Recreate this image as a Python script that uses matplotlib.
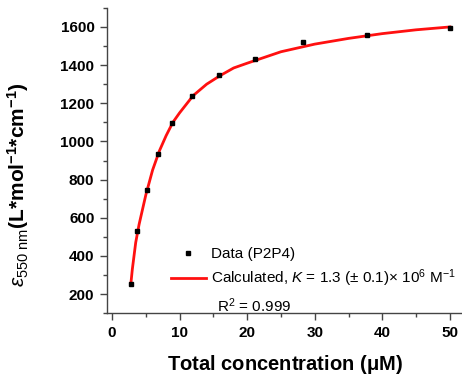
import numpy as np
import matplotlib
matplotlib.use('Agg')
import matplotlib.pyplot as plt
from matplotlib.ticker import MultipleLocator

# data
conc = [2.8, 3.7, 5.1, 6.75, 8.9, 11.9, 15.9, 21.1, 28.2, 37.7, 50.0]
eps = [253, 532, 743, 936, 1096, 1240, 1349, 1433, 1521, 1556, 1595]

# calculated curve
fit_x = [2.8, 3.0, 3.5, 4.0, 5.0, 6.0, 7.0, 8.0, 9.0, 10.0, 12.0, 14.0,
         16.0, 18.0, 20.0, 25.0, 30.0, 35.0, 40.0, 45.0, 50.0]
fit_y = [260, 330, 470, 565, 720, 850, 950, 1030, 1100, 1150, 1240, 1300,
         1345, 1385, 1410, 1470, 1510, 1540, 1565, 1585, 1600]

plt.rcParams['font.family'] = 'Liberation Sans'
plt.rcParams['mathtext.fontset'] = 'custom'
plt.rcParams['mathtext.rm'] = 'Liberation Sans'
plt.rcParams['mathtext.it'] = 'Liberation Sans:italic'
plt.rcParams['mathtext.bf'] = 'Liberation Sans:bold'

fig = plt.figure(figsize=(4.62, 3.75), dpi=100)
ax = fig.add_axes([0.2316, 0.165, 0.7684, 0.814])

ax.plot(conc, eps, 's', color='k', markersize=3.2, label='Data (P2P4)', zorder=3)
ax.plot(fit_x, fit_y, '-', color='#ff1010', linewidth=2,
        label=r'Calculated, $K$ = 1.3 ($\pm$ 0.1)$\times$ 10$^{6}$ M$^{-1}$', zorder=2)

ax.set_xlim(-0.75, 51.8)
ax.set_ylim(100, 1700)
ax.xaxis.set_major_locator(MultipleLocator(10))
ax.xaxis.set_minor_locator(MultipleLocator(5))
ax.yaxis.set_major_locator(MultipleLocator(200))
ax.yaxis.set_minor_locator(MultipleLocator(100))
ax.set_yticks(range(200, 1601, 200))

for s in ['top', 'right']:
    ax.spines[s].set_visible(False)
for s in ['left', 'bottom']:
    ax.spines[s].set_color('#444444')
    ax.spines[s].set_linewidth(1)

ax.tick_params(which='major', direction='out', length=5, width=1, color='#444444',
               labelsize=11, pad=4)
ax.tick_params(which='minor', direction='out', length=3, width=1, color='#444444')
for lab in ax.get_xticklabels() + ax.get_yticklabels():
    lab.set_fontweight('bold')

ax.set_xlabel(r'Total concentration ($\mathbf{\mu}$M)', fontsize=14.5, fontweight='bold')
ax.xaxis.set_label_coords(0.5, -0.13)
ax.set_ylabel(r'$\varepsilon$$_{\mathrm{550\ nm}}$(L*mol$\mathbf{^{-1}}$*cm$\mathbf{^{-1}}$)',
              fontsize=15, fontweight='bold')
ax.yaxis.set_label_coords(-0.215, 0.42)

leg = ax.legend(loc='upper left', bbox_to_anchor=(0.18, 0.215), frameon=False,
                fontsize=11, handlelength=2.3, handletextpad=0.3,
                labelspacing=0.4, borderaxespad=0, borderpad=0)
ax.text(0.31, 0.025, r'R$^{2}$ = 0.999', transform=ax.transAxes, fontsize=11,
        ha='left', va='center')

fig.savefig('out.png', dpi=100)
